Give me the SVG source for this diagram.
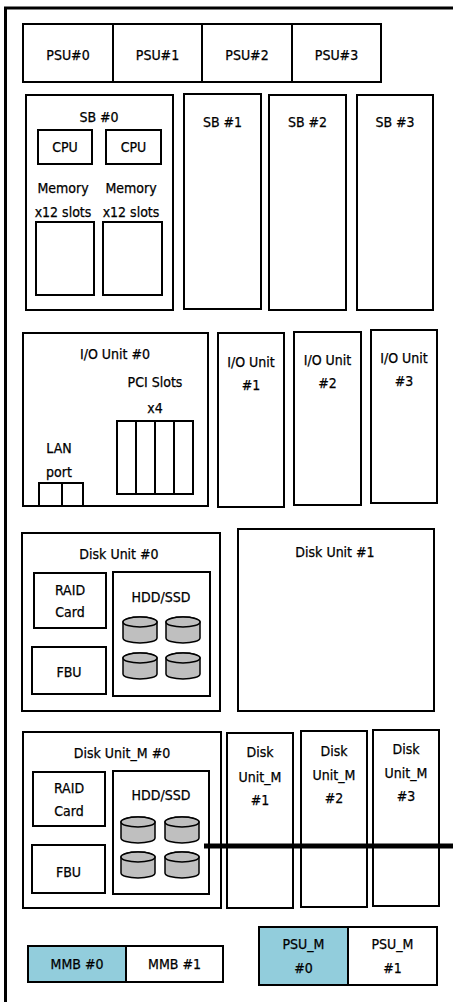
<svg xmlns="http://www.w3.org/2000/svg" width="453" height="1002" viewBox="0 0 453 1002">
<style>
  .b{fill:#fff;stroke:#000;stroke-width:2}
  .m{fill:#92CDDC;stroke:#000;stroke-width:2}
  .t{font-family:"DejaVu Sans Condensed","Liberation Sans Narrow","Liberation Sans",sans-serif;font-size:14px;fill:#000;text-anchor:middle;stroke:#000;stroke-width:0.25}
  .l{fill:none;stroke:#000;stroke-width:2}
</style>
<defs>
  <g id="cyl">
    <path d="M0,5 v16 a17,5 0 0 0 34,0 v-16 a17,5 0 0 0 -34,0 z" fill="#BFBFBF" stroke="#000" stroke-width="1.5"/>
    <ellipse cx="17" cy="5" rx="17" ry="5" fill="#BFBFBF" stroke="#000" stroke-width="1.5"/>
  </g>
</defs>
<rect width="453" height="1002" fill="#fff"/>
<g id="frame">
  <line x1="5.5" y1="7" x2="5.5" y2="1002" stroke="#000" stroke-width="3"/>
  <line x1="4" y1="8" x2="453" y2="8" stroke="#000" stroke-width="3"/>
</g>
<g id="psu0"><rect class="b" x="23" y="24" width="90" height="58"/><text class="t" x="68" y="60">PSU#0</text></g>
<g id="psu1"><rect class="b" x="113" y="24" width="89" height="58"/><text class="t" x="157.5" y="60">PSU#1</text></g>
<g id="psu2"><rect class="b" x="202" y="24" width="90" height="58"/><text class="t" x="247" y="60">PSU#2</text></g>
<g id="psu3"><rect class="b" x="292" y="24" width="89" height="58"/><text class="t" x="336.5" y="60">PSU#3</text></g>

<g id="sb0">
  <rect class="b" x="26" y="95" width="147" height="215"/>
  <text class="t" x="99" y="122">SB #0</text>
  <rect class="b" x="38" y="130" width="54" height="34"/><text class="t" x="65" y="152">CPU</text>
  <rect class="b" x="106" y="130" width="55" height="34"/><text class="t" x="133.5" y="152">CPU</text>
  <text class="t" x="63" y="193">Memory</text><text class="t" x="131" y="193">Memory</text>
  <text class="t" x="63" y="217">x12 slots</text><text class="t" x="131" y="217">x12 slots</text>
  <rect class="b" x="36" y="222" width="58" height="73"/>
  <rect class="b" x="103" y="222" width="59" height="73"/>
</g>
<g id="sb1"><rect class="b" x="184" y="94" width="77" height="215"/><text class="t" x="222.5" y="127">SB #1</text></g>
<g id="sb2"><rect class="b" x="269" y="95" width="77" height="215"/><text class="t" x="307.5" y="127">SB #2</text></g>
<g id="sb3"><rect class="b" x="357" y="95" width="76" height="215"/><text class="t" x="395" y="127">SB #3</text></g>

<g id="io0">
  <rect class="b" x="23" y="333" width="185" height="173"/>
  <text class="t" x="115" y="359">I/O Unit #0</text>
  <text class="t" x="155" y="387">PCI Slots</text>
  <text class="t" x="155" y="413">x4</text>
  <rect class="b" x="117" y="421" width="76" height="73"/>
  <path class="l" d="M136,421V494M155,421V494M174,421V494"/>
  <text class="t" x="59" y="453">LAN</text>
  <text class="t" x="59" y="477">port</text>
  <rect class="b" x="39" y="483" width="44" height="23"/>
  <line x1="62" y1="483" x2="62" y2="506" stroke="#000" stroke-width="2"/>
</g>
<g id="io1"><rect class="b" x="218" y="333" width="66" height="174"/><text class="t" x="251" y="367">I/O Unit</text><text class="t" x="251" y="390">#1</text></g>
<g id="io2"><rect class="b" x="294" y="332" width="67" height="173"/><text class="t" x="327.5" y="365">I/O Unit</text><text class="t" x="327.5" y="388">#2</text></g>
<g id="io3"><rect class="b" x="371" y="330" width="66" height="173"/><text class="t" x="404" y="363">I/O Unit</text><text class="t" x="404" y="386">#3</text></g>

<g id="disk0">
  <rect class="b" x="22" y="533" width="198" height="178"/>
  <text class="t" x="119" y="559">Disk Unit #0</text>
  <rect class="b" x="34" y="573" width="72" height="55"/>
  <text class="t" x="70" y="595">RAID</text><text class="t" x="70" y="617">Card</text>
  <rect class="b" x="32" y="647" width="74" height="47"/>
  <text class="t" x="69" y="677">FBU</text>
  <rect class="b" x="113" y="572" width="97" height="124"/>
  <text class="t" x="161" y="602">HDD/SSD</text>
  <use href="#cyl" x="123" y="617"/><use href="#cyl" x="166" y="617"/>
  <use href="#cyl" x="123" y="653"/><use href="#cyl" x="166" y="653"/>
</g>
<g id="disk1"><rect class="b" x="238" y="529" width="196" height="182"/><text class="t" x="335" y="557">Disk Unit #1</text></g>

<g id="diskm0">
  <rect class="b" x="23" y="732" width="198" height="176"/>
  <text class="t" x="122" y="758">Disk Unit_M #0</text>
  <rect class="b" x="33" y="772" width="72" height="54"/>
  <text class="t" x="69" y="793">RAID</text><text class="t" x="69" y="816">Card</text>
  <rect class="b" x="32" y="845" width="73" height="48"/>
  <text class="t" x="68.5" y="877">FBU</text>
  <rect class="b" x="113" y="771" width="96" height="123"/>
  <text class="t" x="161" y="800">HDD/SSD</text>
  <use href="#cyl" x="121" y="817"/><use href="#cyl" x="165" y="817"/>
  <use href="#cyl" x="121" y="852"/><use href="#cyl" x="165" y="852"/>
</g>
<g id="diskm1"><rect class="b" x="227" y="733" width="66" height="175"/><text class="t" x="260" y="757">Disk</text><text class="t" x="260" y="782">Unit_M</text><text class="t" x="260" y="805">#1</text></g>
<g id="diskm2"><rect class="b" x="301" y="731" width="66" height="176"/><text class="t" x="334" y="756">Disk</text><text class="t" x="334" y="780">Unit_M</text><text class="t" x="334" y="803">#2</text></g>
<g id="diskm3"><rect class="b" x="373" y="730" width="66" height="176"/><text class="t" x="406" y="754">Disk</text><text class="t" x="406" y="778">Unit_M</text><text class="t" x="406" y="801">#3</text></g>

<g id="connectors">
  <line x1="204" y1="846" x2="453" y2="846" stroke="#000" stroke-width="5"/>
</g>

<g id="mmb0"><rect class="m" x="28" y="946" width="98" height="36"/><text class="t" x="77" y="969">MMB #0</text></g>
<g id="mmb1"><rect class="b" x="126" y="946" width="97" height="36"/><text class="t" x="174.5" y="969">MMB #1</text></g>
<g id="psum0"><rect class="m" x="259" y="927" width="89" height="58"/><text class="t" x="303.5" y="949">PSU_M</text><text class="t" x="303.5" y="973">#0</text></g>
<g id="psum1"><rect class="b" x="348" y="927" width="89" height="58"/><text class="t" x="392.5" y="949">PSU_M</text><text class="t" x="392.5" y="973">#1</text></g>
</svg>
